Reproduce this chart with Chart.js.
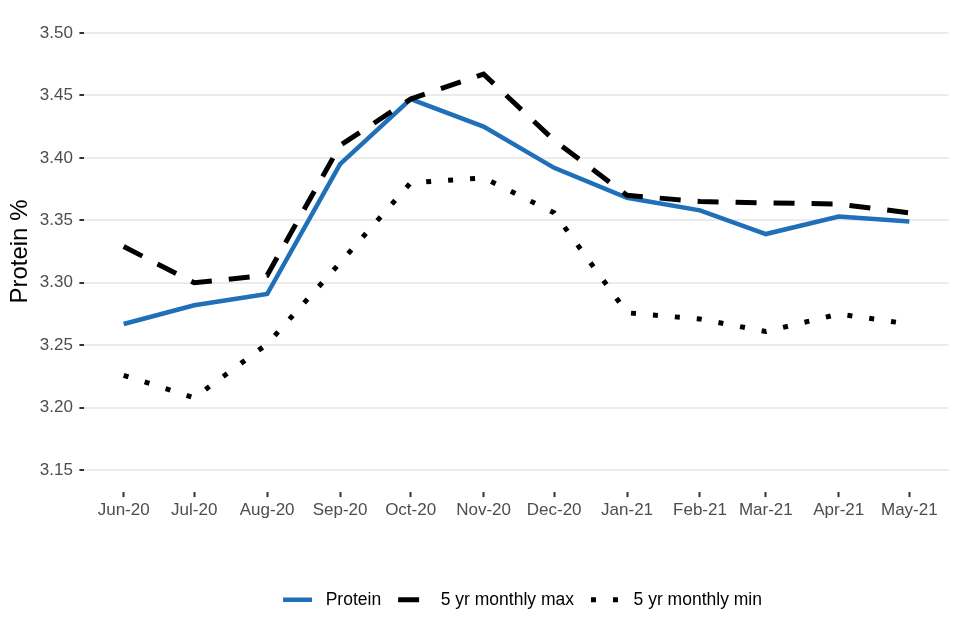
<!DOCTYPE html>
<html>
<head>
<meta charset="utf-8">
<script src="https://cdn.jsdelivr.net/npm/chart.js@4"></script>
<style>
  body { margin: 0; background: #fff; }
  #wrap { width: 960px; height: 640px; }
</style>
</head>
<body>
<div id="wrap"><canvas id="chart"></canvas></div>
<script>
// Datos
const months = ['2020-06-01', '2020-07-01', '2020-08-01', '2020-09-01', '2020-10-01', '2020-11-01',
                '2020-12-01', '2021-01-01', '2021-02-01', '2021-03-01', '2021-04-01', '2021-05-01'];
const monthLabels = ['Jun-20', 'Jul-20', 'Aug-20', 'Sep-20', 'Oct-20', 'Nov-20',
                     'Dec-20', 'Jan-21', 'Feb-21', 'Mar-21', 'Apr-21', 'May-21'];
const protein = [3.267, 3.282, 3.291, 3.395, 3.447, 3.425, 3.392, 3.368, 3.358, 3.339, 3.353, 3.349];
const maxValues = [3.329, 3.300, 3.306, 3.410, 3.447, 3.467, 3.414, 3.370, 3.365, 3.364, 3.363, 3.356];
const minValues = [3.226, 3.208, 3.251, 3.316, 3.380, 3.384, 3.356, 3.276, 3.271, 3.261, 3.275, 3.267];
const yTicks = [3.15, 3.20, 3.25, 3.30, 3.35, 3.40, 3.45, 3.50];
const yTickLabels = ['3.15', '3.20', '3.25', '3.30', '3.35', '3.40', '3.45', '3.50'];

// Eje x en dias (fechas reales)
const day0 = Date.parse(months[0]);
const days = months.map(m => (Date.parse(m) - day0) / 86400000);
const span = days[days.length - 1] - days[0];
const xPad = span * 0.05;
const yPad = (yTicks[yTicks.length - 1] - yTicks[0]) * 0.05;

const toPoints = vals => vals.map((v, i) => ({ x: days[i], y: v }));

// Sin relleno extra de las etiquetas en los bordes
const noEdgePadding = scale => {
    scale.paddingTop = 0;
    scale.paddingBottom = 0;
    scale.paddingLeft = 0;
    scale.paddingRight = 0;
};

// Centra la leyenda sobre el panel y no sobre todo el lienzo
const legendShift = {
    id: 'legendShift',
    beforeDraw(chart) {
        const lg = chart.legend;
        if (!lg || lg._shifted) return;
        const mid = (chart.chartArea.left + chart.chartArea.right) / 2 + 6;
        const dx = mid - (lg.left + lg.right) / 2;
        lg.left += dx;
        lg.right += dx;
        lg._shifted = true;
    }
};

const ctx = document.getElementById('chart').getContext('2d');
new Chart(ctx, {
    type: 'line',
    data: {
        datasets: [
            {
                label: ' Protein',
                data: toPoints(protein),
                borderColor: '#1F70B8',
                backgroundColor: '#1F70B8',
                borderWidth: 4.5,
                pointRadius: 0,
                pointStyle: 'line',
                order: 3
            },
            {
                label: ' 5 yr monthly max',
                data: toPoints(maxValues),
                borderColor: '#000',
                backgroundColor: '#000',
                borderWidth: 5,
                borderDash: [21, 17],
                pointRadius: 0,
                pointStyle: 'line',
                order: 2
            },
            {
                label: ' 5 yr monthly min',
                data: toPoints(minValues),
                borderColor: '#000',
                backgroundColor: '#000',
                borderWidth: 5,
                borderDash: [5, 17],
                pointRadius: 0,
                pointStyle: 'line',
                order: 1
            }
        ]
    },
    plugins: [legendShift],
    options: {
        responsive: true,
        maintainAspectRatio: false,
        animation: false,
        layout: { padding: { left: 0, right: 11.4, top: 11, bottom: 21.5 } },
        plugins: {
            tooltip: { enabled: false },
            legend: {
                position: 'bottom',
                labels: {
                    usePointStyle: true,
                    pointStyleWidth: 29,
                    padding: 17,
                    color: '#000',
                    font: { family: 'Liberation Sans', size: 17.5 },
                    sort: (a, b) => a.datasetIndex - b.datasetIndex,
                    generateLabels: chart => {
                        const items = Chart.defaults.plugins.legend.labels.generateLabels(chart);
                        items.forEach(item => {
                            const ds = chart.data.datasets[item.datasetIndex];
                            item.lineDash = ds.borderDash || [];
                            item.lineWidth = ds.borderWidth;
                            item.strokeStyle = ds.borderColor;
                        });
                        return items;
                    }
                }
            }
        },
        scales: {
            x: {
                type: 'linear',
                min: days[0] - xPad,
                max: days[days.length - 1] + xPad,
                afterBuildTicks: scale => { scale.ticks = days.map(v => ({ value: v })); },
                afterFit: scale => { scale.height = 81.9; noEdgePadding(scale); },
                border: { display: false },
                grid: {
                    drawOnChartArea: false,
                    drawTicks: true,
                    tickLength: 5,
                    tickColor: '#333',
                    tickWidth: 2
                },
                ticks: {
                    autoSkip: false,
                    maxRotation: 0,
                    padding: 3,
                    color: '#4D4D4D',
                    font: { family: 'Liberation Sans', size: 17 },
                    callback: (value, index) => monthLabels[index]
                }
            },
            y: {
                min: yTicks[0] - yPad,
                max: yTicks[yTicks.length - 1] + yPad,
                afterBuildTicks: scale => { scale.ticks = yTicks.map(v => ({ value: v })); },
                afterFit: scale => { scale.width = 84.4; noEdgePadding(scale); },
                border: { display: false },
                grid: {
                    color: '#EBEBEB',
                    lineWidth: 2,
                    drawTicks: true,
                    tickLength: 5,
                    tickColor: '#333',
                    tickWidth: 2
                },
                ticks: {
                    padding: 6.5,
                    color: '#4D4D4D',
                    font: { family: 'Liberation Sans', size: 17 },
                    callback: (value, index) => yTickLabels[index]
                },
                title: {
                    display: true,
                    text: 'Protein %',
                    color: '#000',
                    padding: { top: 5.6, bottom: 0 },
                    font: { family: 'Liberation Sans', size: 24 }
                }
            }
        }
    }
});
</script>
</body>
</html>
